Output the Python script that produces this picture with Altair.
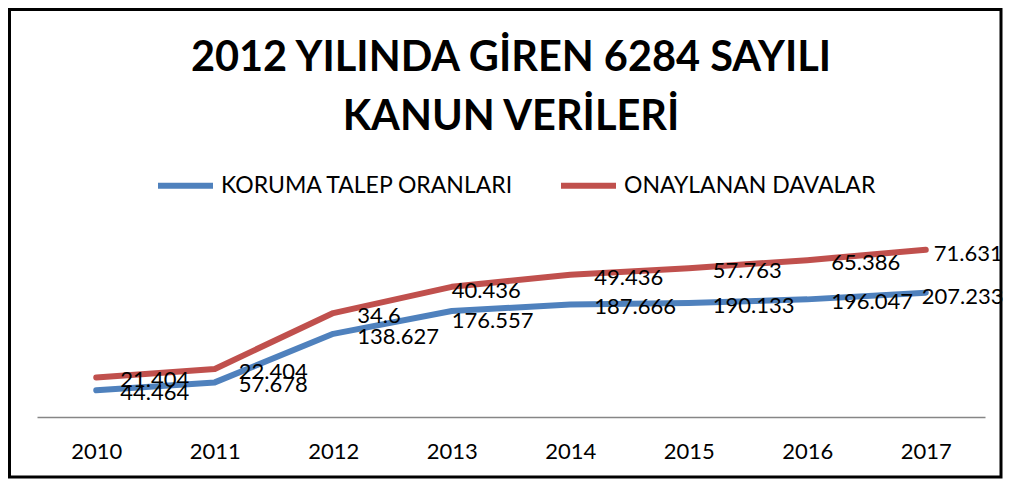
import altair as alt
import pandas as pd

years = ["2010", "2011", "2012", "2013", "2014", "2015", "2016", "2017"]
koruma = [44.464, 57.678, 138.627, 176.557, 187.666, 190.133, 196.047, 207.233]
onay = [21.404, 22.404, 34.6, 40.436, 49.436, 57.763, 65.386, 71.631]
series = ["KORUMA TALEP ORANLARI", "ONAYLANAN DAVALAR"]
colors = ["#4F81BD", "#C0504D"]

rows = []
for i, y in enumerate(years):
    rows.append({"year": y, "series": series[0], "ord": 0, "value": koruma[i]})
    rows.append({"year": y, "series": series[1], "ord": 1, "value": onay[i]})
df = pd.DataFrame(rows)

FONT = "Lato"
W, H = 948, 180

xscale = alt.Scale(type="point", padding=0.5)
x = alt.X("year:O", title=None, scale=xscale,
          axis=alt.Axis(labelAngle=0, ticks=False, domainColor="#868686",
                        domainWidth=1.5, labelFontSize=22, labelFont=FONT,
                        labelColor="#000000", labelPadding=24, grid=False))
y = alt.Y("v1:Q", title=None, scale=alt.Scale(domain=[0, 300]), axis=None)
color = alt.Color("series:N", title=None,
                  scale=alt.Scale(domain=series, range=colors),
                  legend=alt.Legend(orient="none", legendX=118, legendY=-82,
                                    direction="horizontal", symbolType="stroke",
                                    symbolSize=3025, symbolStrokeWidth=6,
                                    labelFontSize=23, labelFont=FONT,
                                    labelColor="#000000", labelOffset=5,
                                    columnPadding=34, labelLimit=600))

base = alt.Chart(df).transform_stack(
    stack="value", groupby=["year"], as_=["v0", "v1"],
    sort=[alt.SortField("ord", order="ascending")])

lines = base.mark_line(strokeWidth=6, strokeCap="round", strokeJoin="round").encode(
    x=x, y=y, color=color, order=alt.Order("year:O"))


def labels(filt, dx, dy):
    return base.transform_filter(filt).mark_text(
        align="left", baseline="middle", dx=dx, dy=dy, fontSize=22,
        font=FONT, color="#000000").encode(
        x=alt.X("year:O", scale=xscale),
        y=y, detail="series:N",
        text=alt.Text("value:Q", format=".3~f"))


lab_main = labels("datum.year != '2013' && datum.year != '2017'", 24, 3)
lab_2013b = labels("datum.year == '2013' && datum.ord == 0", 0, 10)
lab_2013r = labels("datum.year == '2013' && datum.ord == 1", 0, 4)
lab_2017b = labels("datum.year == '2017' && datum.ord == 0", -4, 4)
lab_2017r = labels("datum.year == '2017' && datum.ord == 1", 8, 4)

frame = alt.Chart(pd.DataFrame({"a": [0]})).mark_rect(
    fill="transparent", stroke="#000000", strokeWidth=3).encode(
    x=alt.value(-27.5), x2=alt.value(964), y=alt.value(-227.5), y2=alt.value(240))

chart = alt.layer(frame, lines, lab_main, lab_2013b, lab_2013r, lab_2017b, lab_2017r).properties(
    width=W, height=H,
    autosize=alt.AutoSizeParams(type="none"),
    padding={"left": 29, "top": 229, "right": 18, "bottom": 62},
    background="#ffffff",
    title=alt.TitleParams(["2012 YILINDA GİREN 6284 SAYILI", "KANUN VERİLERİ"],
                          font=FONT, fontSize=41.5, fontWeight="bold",
                          color="#000000", anchor="middle", lineHeight=59,
                          offset=-130),
).configure_view(strokeWidth=0)

chart.save("out.html", embed_options={"renderer": "svg", "actions": False})
